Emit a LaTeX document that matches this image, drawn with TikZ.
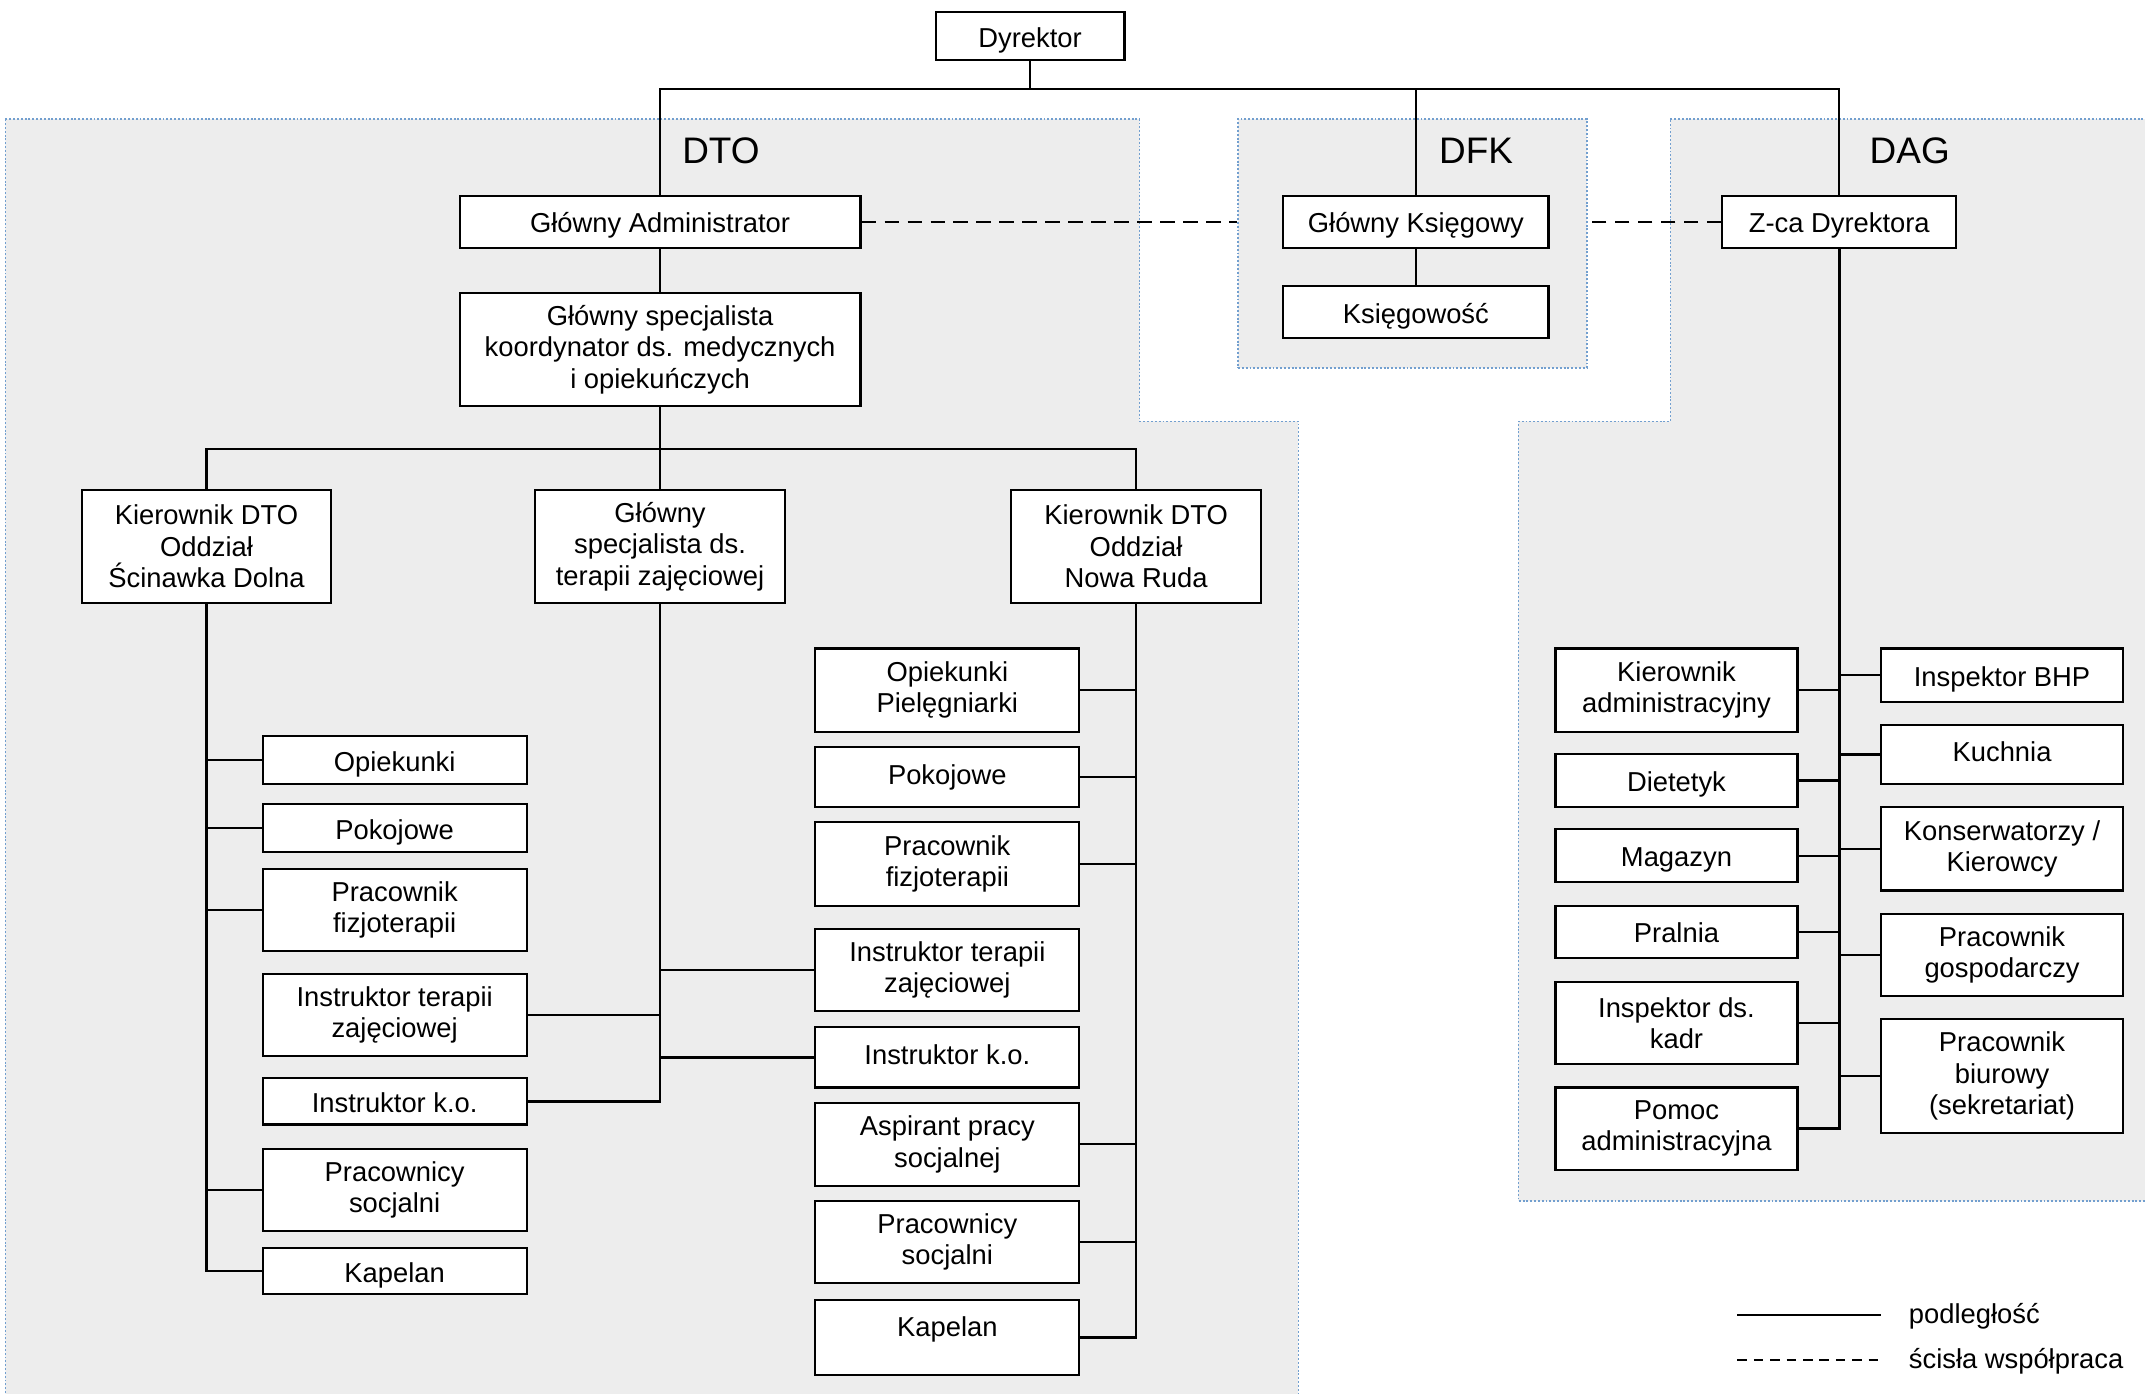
\documentclass[tikz,border=0pt]{standalone}
\usepackage{fontspec}
\setmainfont{Liberation Sans}
\definecolor{regfill}{HTML}{EDEDED}
\definecolor{regline}{HTML}{729FCF}
\begin{document}
\begin{tikzpicture}[x=0.5pt,y=-0.5pt,
  box/.style={draw=black, line width=0.8pt, fill=white, align=center, inner sep=1pt, font=\fontsize{10}{11.5}\selectfont},
  sz/.style 2 args={minimum width=#1*0.5pt, minimum height=#2*0.5pt},
  one/.style={text height=10.3pt, text depth=2.1pt},
  link/.style={draw=black, line width=0.8pt},
  trunk/.style={draw=black, line width=1pt},
  coop/.style={draw=black, line width=0.8pt, dash pattern=on 5.3pt off 3.1pt},
  coopleg/.style={draw=black, line width=0.8pt, dash pattern=on 3.5pt off 2.5pt},
  region/.style={fill=regfill, draw=regline, line width=0.5pt, dash pattern=on 0.7pt off 0.7pt},
  head/.style={font=\fontsize{13.5}{16}\selectfont},
  leg/.style={font=\fontsize{10}{11.5}\selectfont, anchor=west, inner sep=0pt}]

\clip (0,0) rectangle (1568,1019);

% regions
\path[region] (4,87) -- (833,87) -- (833,308) -- (949,308) -- (949,1030) -- (4,1030) -- cycle;
\path[region] (1221,87) -- (1580,87) -- (1580,878) -- (1110,878) -- (1110,308) -- (1221,308) -- cycle;
\node[region, sz={255}{182}, inner sep=0pt] (dfk) at (1032.5,178) {};

\node[head] (hDTO) at (527,110) {DTO};
\node[head] (hDFK) at (1079,110) {DFK};
\node[head] (hDAG) at (1396,110) {DAG};

% top
\node[box, one, sz={138}{35}] (dyr) at (753,26.5) {Dyrektor};
\node[box, one, sz={293}{38}] (ga) at (482.5,162) {Główny Administrator};
\node[box, sz={293}{83}] (gs) at (482.5,255.5) {Główny specjalista\\koordynator ds. medycznych\\i opiekuńczych};
\node[box, one, sz={194}{38}] (gk) at (1035,162) {Główny Księgowy};
\node[box, one, sz={194}{38}] (ksi) at (1035,228) {Księgowość};
\node[box, one, sz={171}{38}] (zca) at (1344.5,162) {Z-ca Dyrektora};

\node[box, sz={182}{83}] (kS) at (151,399.5) {Kierownik DTO\\Oddział\\Ścinawka Dolna};
\node[box, sz={183}{83}] (gt) at (482.5,399.5) {Główny\\specjalista ds.\\terapii zajęciowej};
\node[box, sz={183}{83}] (kN) at (830.5,399.5) {Kierownik DTO\\Oddział\\Nowa Ruda};

% left column
\node[box, one, sz={193}{35}] (L1) at (288.5,555.5) {Opiekunki};
\node[box, one, sz={193}{35}] (L2) at (288.5,605.5) {Pokojowe};
\node[box, sz={193}{60}] (L3) at (288.5,665) {Pracownik\\fizjoterapii};
\node[box, sz={193}{60}] (L4) at (288.5,742) {Instruktor terapii\\zajęciowej};
\node[box, one, sz={193}{34}] (L5) at (288.5,805) {Instruktor k.o.};
\node[box, sz={193}{60}] (L6) at (288.5,870) {Pracownicy\\socjalni};
\node[box, one, sz={193}{34}] (L7) at (288.5,929) {Kapelan};

% right column DTO
\node[box, sz={193}{61}] (R1) at (692.5,504.5) {Opiekunki\\Pielęgniarki};
\node[box, one, text depth=5pt, sz={193}{44}] (R2) at (692.5,568) {Pokojowe};
\node[box, sz={193}{61}] (R3) at (692.5,631.5) {Pracownik\\fizjoterapii};
\node[box, sz={193}{60}] (R4) at (692.5,709) {Instruktor terapii\\zajęciowej};
\node[box, one, text depth=5pt, sz={193}{44}] (R5) at (692.5,773) {Instruktor k.o.};
\node[box, sz={193}{61}] (R6) at (692.5,836.5) {Aspirant pracy\\socjalnej};
\node[box, sz={193}{60}] (R7) at (692.5,908) {Pracownicy\\socjalni};
\node[box, one, text depth=11pt, sz={193}{55}] (R8) at (692.5,977.5) {Kapelan};

% DAG left
\node[box, sz={177}{61}] (A1) at (1225.5,504.5) {Kierownik\\administracyjny};
\node[box, one, sz={177}{39}] (A2) at (1225.5,570.5) {Dietetyk};
\node[box, one, sz={177}{39}] (A3) at (1225.5,625.5) {Magazyn};
\node[box, one, sz={177}{38}] (A4) at (1225.5,681) {Pralnia};
\node[box, sz={177}{60}] (A5) at (1225.5,748) {Inspektor ds.\\kadr};
\node[box, sz={177}{60}] (A6) at (1225.5,825) {Pomoc\\administracyjna};
% DAG right
\node[box, one, sz={177}{39}] (B1) at (1463.5,493.5) {Inspektor BHP};
\node[box, one, text depth=5.5pt, sz={177}{43}] (B2) at (1463.5,551.5) {Kuchnia};
\node[box, sz={177}{61}] (B3) at (1463.5,620.5) {Konserwatorzy /\\Kierowcy};
\node[box, sz={177}{60}] (B4) at (1463.5,698) {Pracownik\\gospodarczy};
\node[box, sz={177}{83}] (B5) at (1463.5,786.5) {Pracownik\\biurowy\\(sekretariat)};

% top connectors
\coordinate (tb) at (753,65);
\draw[link] (dyr.south) -- (tb);
\draw[link] (ga.north) |- (tb);
\draw[link] (zca.north) |- (tb);
\draw[link] (gk.north) -- (gk.north |- tb);
\draw[link] (gk.south) -- (ksi.north);
\draw[link] (ga.south) -- (gs.north);

% cooperation
\draw[coop] (ga.east) -- (ga.east -| dfk.west);
\draw[coop] (zca.west) -- (zca.west -| dfk.east);

% DTO bus
\coordinate (mb) at (482.5,328);
\draw[link] (gs.south) -- (gt.north);
\draw[link] (kS.north) |- (mb);
\draw[link] (kN.north) |- (mb);

% left trunk
\draw[trunk] (kS.south) |- (L7.west);
\foreach \n in {L1,L2,L3,L6} \draw[link] (\n.west) -- (\n.west -| kS.south);

% middle trunk
\draw[trunk] (gt.south) |- (L5.east);
\draw[link] (L4.east) -- (L4.east -| gt.south);
\draw[link] (R4.west) -- (R4.west -| gt.south);
\draw[link] (R5.west) -- (R5.west -| gt.south);

% right trunk
\draw[trunk] (kN.south) |- (R8.east);
\foreach \n in {R1,R2,R3,R6,R7} \draw[link] (\n.east) -- (\n.east -| kN.south);

% DAG trunk
\draw[trunk] (zca.south) |- (A6.east);
\foreach \n in {A1,A2,A3,A4,A5} \draw[link] (\n.east) -- (\n.east -| zca.south);
\foreach \n in {B1,B2,B3,B4,B5} \draw[link] (\n.west) -- (\n.west -| zca.south);

% legend
\coordinate (lg1a) at (1270,961);
\coordinate (lg1b) at (1375,961);
\coordinate (lg2a) at (1270,994);
\coordinate (lg2b) at (1375,994);
\draw[link] (lg1a) -- (lg1b);
\draw[coopleg] (lg2a) -- (lg2b);
\node[leg] (lg1t) at (1395,962) {podległość};
\node[leg] (lg2t) at (1395,995) {ścisła współpraca};
\end{tikzpicture}
\end{document}
